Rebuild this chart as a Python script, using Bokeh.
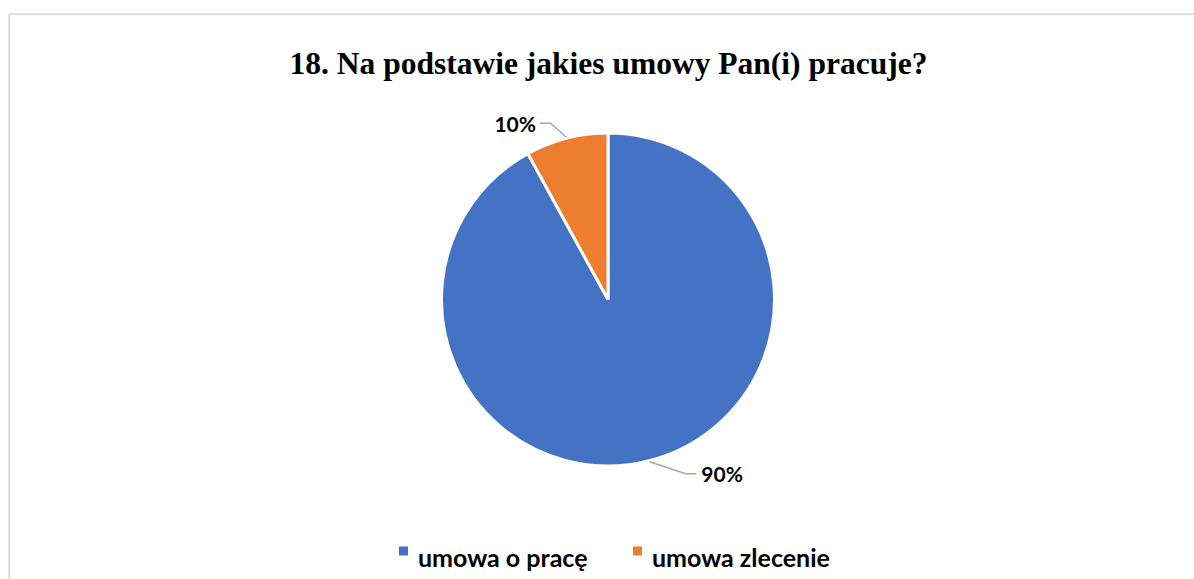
import numpy as np
from bokeh.plotting import figure
from bokeh.models import Range1d, ColumnDataSource
from bokeh.core.properties import value
from bokeh.embed import file_html
from bokeh.resources import INLINE

# ---- data ----
categories = ["umowa o pracę", "umowa zlecenie"]
shares = [92, 8]                 # slice sizes
label_texts = ["90%", "10%"]     # data labels as printed
colors = ["#4472C4", "#ED7D31"]
title_text = "18. Na podstawie jakies umowy Pan(i) pracuje?"

W, H = 1194, 579
p = figure(width=W, height=H, x_range=Range1d(0, W), y_range=Range1d(0, H),
           output_backend="svg", toolbar_location=None, min_border=0)
p.axis.visible = False
p.grid.visible = False
p.outline_line_color = None
p.background_fill_color = "white"
p.border_fill_color = "white"

# chart border (top & left visible)
p.line([8.8, 8.8, W + 5], [-5, 565.3, 565.3], line_color="#D9D9D9", line_width=1.8)

# title
p.text(x=[608], y=[515.7], text=[title_text], text_font=value("Liberation Serif"),
       text_font_style="bold", text_font_size="31.5px", text_align="center",
       text_baseline="alphabetic", text_color="black")

# pie
cx, cy, r = 607.5, 280.0, 166.5
vals = np.array(shares, dtype=float)
frac = vals / vals.sum()
cum = np.concatenate([[0], np.cumsum(frac)])
start = np.pi / 2 - 2 * np.pi * cum[:-1]
end = np.pi / 2 - 2 * np.pi * cum[1:]
src = ColumnDataSource(dict(start=start, end=end, color=colors, cat=categories))
p.wedge(x=cx, y=cy, radius=r, start_angle="start", end_angle="end", direction="clock",
        fill_color="color", line_color="white", line_width=3, source=src)

# data labels with leader lines
mid = (start + end) / 2
for i, txt in enumerate(label_texts):
    ax = cx + (r + 1) * np.cos(mid[i])
    ay = cy + (r + 1) * np.sin(mid[i])
    if np.cos(mid[i]) < 0:  # left side label (10%)
        xs = [ax, ax - 15.7, ax - 26.4]
        ys = [ay, ay + 14, ay + 14]
        p.line(xs, ys, line_color="#A6A6A6", line_width=1.5)
        p.text(x=[xs[-1] - 4], y=[ys[-1]], text=[txt], text_font=value("Lato"),
               text_font_style="bold", text_font_size="21px", text_align="right",
               text_baseline="alphabetic", text_color="black")
    else:  # right side label (90%)
        xs = [ax, ax + 36, ax + 46.7]
        ys = [ay, ay - 12, ay - 12]
        p.line(xs, ys, line_color="#A6A6A6", line_width=1.5)
        p.text(x=[xs[-1] + 5], y=[ys[-1]], text=[txt], text_font=value("Lato"),
               text_font_style="bold", text_font_size="21px", text_align="left",
               text_baseline="alphabetic", text_color="black")

# legend (manual)
leg_x = [403, 637]
p.scatter(x=leg_x, y=[28.5, 28.5], marker="square", size=9, fill_color=colors, line_color=None)
p.text(x=[x + 14.5 for x in leg_x], y=[22.3, 22.3], text=categories, text_font=value("Lato"),
       text_font_style="bold", text_font_size="25px", text_align="left",
       text_baseline="alphabetic", text_color="black")

open("out.html", "w").write(file_html(p, INLINE))
